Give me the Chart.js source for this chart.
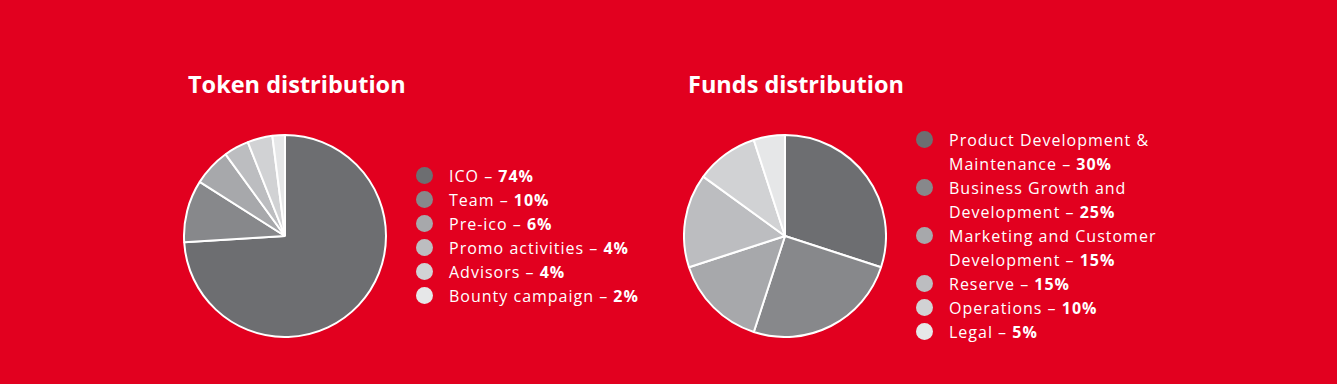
<!DOCTYPE html>
<html><head><meta charset="utf-8">
<script src="https://cdn.jsdelivr.net/npm/chart.js@4/dist/chart.umd.min.js"></script>
<style>
html,body{margin:0;padding:0;}
body{width:1337px;height:384px;background:#e2001f;position:relative;overflow:hidden;font-family:"Open Sans",sans-serif;color:#fff;}
.title{position:absolute;font-weight:700;font-size:23.5px;line-height:26px;white-space:nowrap;}
.pie{position:absolute;width:204px;height:204px;}
.legend{position:absolute;font-size:16px;line-height:24px;letter-spacing:1px;white-space:nowrap;}
.legend .row{position:relative;padding-left:33px;}
.legend .line{display:block;}
.legend .dot{position:absolute;left:0;width:17px;height:17px;border-radius:50%;top:3px;}
.legend b{font-weight:700;}
</style></head>
<body>
<div class="title" id="t1" style="left:188px;top:71px;"></div>
<div class="title" id="t2" style="left:688px;top:71px;"></div>
<div class="pie" style="left:183px;top:134px;"><canvas id="c1" width="204" height="204"></canvas></div>
<div class="pie" style="left:683px;top:134px;"><canvas id="c2" width="204" height="204"></canvas></div>
<div class="legend" id="l1" style="left:416px;top:164px;"></div>
<div class="legend" id="l2" style="left:916px;top:128px;"></div>
<script>
const tokenTitle = "Token distribution";
const tokenLabels = [["ICO"], ["Team"], ["Pre-ico"], ["Promo activities"], ["Advisors"], ["Bounty campaign"]];
const tokenValues = [74, 10, 6, 4, 4, 2];
const fundsTitle = "Funds distribution";
const fundsLabels = [["Product Development &", "Maintenance"], ["Business Growth and", "Development"], ["Marketing and Customer", "Development"], ["Reserve"], ["Operations"], ["Legal"]];
const fundsValues = [30, 25, 15, 15, 10, 5];
const greys = ["#6d6e71", "#87888b", "#a7a8ab", "#bcbdc0", "#d1d2d4", "#e6e7e8"];

function makePie(id, labels, values) {
  new Chart(document.getElementById(id), {
    type: 'pie',
    data: { labels: labels.map(l => l.join(' ')), datasets: [{ data: values, backgroundColor: greys, borderColor: "#ffffff", borderWidth: 2, hoverOffset: 0 }] },
    options: { responsive: false, animation: false, layout: { padding: 0 },
      plugins: { legend: { display: false }, tooltip: { enabled: false } } }
  });
}
function makeLegend(id, labels, values) {
  const el = document.getElementById(id);
  labels.forEach((lines, i) => {
    const r = document.createElement('div'); r.className = 'row';
    const d = document.createElement('span'); d.className = 'dot'; d.style.background = greys[i];
    r.appendChild(d);
    lines.forEach((t, j) => {
      const ln = document.createElement('span'); ln.className = 'line';
      if (j < lines.length - 1) {
        ln.textContent = t;
      } else {
        ln.appendChild(document.createTextNode(t + " \u2013 "));
        const b = document.createElement('b'); b.textContent = values[i] + "%";
        ln.appendChild(b);
      }
      r.appendChild(ln);
    });
    el.appendChild(r);
  });
}
document.getElementById('t1').textContent = tokenTitle;
document.getElementById('t2').textContent = fundsTitle;
makePie('c1', tokenLabels, tokenValues);
makePie('c2', fundsLabels, fundsValues);
makeLegend('l1', tokenLabels, tokenValues);
makeLegend('l2', fundsLabels, fundsValues);
</script>
</body></html>
